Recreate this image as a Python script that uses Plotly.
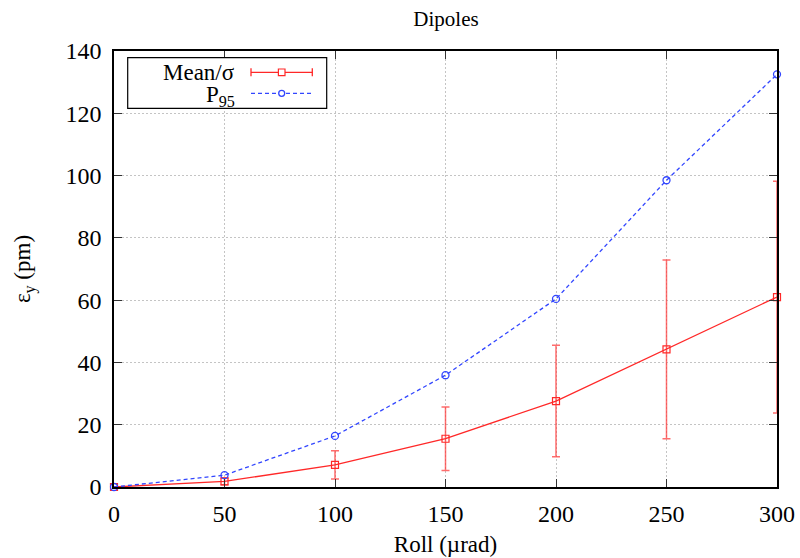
import plotly.graph_objects as go

# ---- data ----
roll = [0, 50, 100, 150, 200, 250, 300]
mean_eps = [0.0, 1.8, 7.1, 15.5, 27.6, 44.2, 61.0]
sigma_eps = [0.0, 1.1, 4.5, 10.2, 17.9, 28.7, 37.2]
p95_eps = [0.0, 3.8, 16.4, 35.9, 60.4, 98.5, 132.5]
x_ticks = [0, 50, 100, 150, 200, 250, 300]
y_ticks = [0, 20, 40, 60, 80, 100, 120, 140]

W, H = 800, 558
L, R, T, B = 114, 23, 51, 71
FONT = "Liberation Serif, Times New Roman, serif"
RED = "rgb(255,40,40)"
RED_ERR = "rgba(255,60,60,0.75)"
BLUE = "rgb(50,70,255)"
BLUE_DASH = "4px,3px"


def px(xp):
    return (xp - L) / (W - L - R)


def py(yp):
    return (H - B - yp) / (H - T - B)


fig = go.Figure()
fig.add_trace(go.Scatter(
    x=roll, y=mean_eps, mode="lines+markers", name="Mean/σ",
    line=dict(color=RED, width=1.3),
    marker=dict(symbol="square-open", size=7, color=RED, line=dict(width=1.2)),
    error_y=dict(type="data", array=sigma_eps, visible=True,
                 color=RED_ERR, thickness=1.5, width=4),
    cliponaxis=False, showlegend=False,
))
fig.add_trace(go.Scatter(
    x=roll, y=p95_eps, mode="lines+markers", name="P95",
    line=dict(color=BLUE, width=1.3, dash=BLUE_DASH),
    marker=dict(symbol="circle-open", size=7, color=BLUE, line=dict(width=1.3)),
    cliponaxis=False, showlegend=False,
))

axis_common = dict(
    showline=True, linecolor="black", linewidth=1.5, mirror="ticks",
    ticks="inside", ticklen=8, tickcolor="#333", tickwidth=1.2,
    showgrid=True, gridcolor="#c4c4c4", griddash="2px,2px", gridwidth=1,
    zeroline=False, automargin=False,
    tickfont=dict(family=FONT, size=24, color="black"),
    title_font=dict(family=FONT, size=23, color="black"),
)

fig.update_xaxes(range=[0, 300], tickvals=x_ticks, ticktext=[str(v) for v in x_ticks],
                 title_text="Roll (µrad)", title_standoff=10, ticklabelstandoff=4,
                 **axis_common)
fig.update_yaxes(range=[0, 140], tickvals=y_ticks, ticktext=[str(v) for v in y_ticks],
                 title_text="ε<sub>y</sub> (pm)", title_standoff=28, ticklabelstandoff=6,
                 **axis_common)

# ---- legend drawn manually (gnuplot style: text then sample) ----
shapes = []
shapes.append(dict(type="rect", xref="paper", yref="paper",
                   x0=px(127.7), x1=px(326.7), y0=py(108.3), y1=py(57.7),
                   line=dict(color="black", width=1.2), fillcolor="white", layer="above"))
r1, r2 = 72.3, 93.3
sx0, sx1, sxm = 251, 312.3, 281.7
shapes.append(dict(type="line", xref="paper", yref="paper", x0=px(sx0), x1=px(sx1),
                   y0=py(r1), y1=py(r1), line=dict(color=RED, width=1.3), layer="above"))
for xx in (sx0, sx1):
    shapes.append(dict(type="line", xref="paper", yref="paper", x0=px(xx), x1=px(xx),
                       y0=py(r1 - 4), y1=py(r1 + 4), line=dict(color=RED, width=1.3), layer="above"))
shapes.append(dict(type="rect", xref="paper", yref="paper", x0=px(sxm - 3.3), x1=px(sxm + 3.3),
                   y0=py(r1 + 3.3), y1=py(r1 - 3.3), line=dict(color=RED, width=1.2),
                   fillcolor="white", layer="above"))
shapes.append(dict(type="line", xref="paper", yref="paper", x0=px(sx0), x1=px(sx1),
                   y0=py(r2), y1=py(r2), line=dict(color=BLUE, width=1.3, dash=BLUE_DASH),
                   layer="above"))
shapes.append(dict(type="circle", xref="paper", yref="paper", x0=px(sxm - 3), x1=px(sxm + 3),
                   y0=py(r2 + 3), y1=py(r2 - 3), line=dict(color=BLUE, width=1.3),
                   fillcolor="white", layer="above"))

annotations = [
    dict(text="Mean/σ", xref="paper", yref="paper", x=px(237), y=py(r1),
         xanchor="right", yanchor="middle", showarrow=False,
         font=dict(family=FONT, size=23, color="black")),
    dict(text="P<sub>95</sub>", xref="paper", yref="paper", x=px(237), y=py(r2 + 3),
         xanchor="right", yanchor="middle", showarrow=False,
         font=dict(family=FONT, size=23, color="black")),
]

fig.update_layout(
    width=W, height=H,
    margin=dict(l=L, r=R, t=T, b=B, autoexpand=False),
    paper_bgcolor="white", plot_bgcolor="white",
    title=dict(text="Dipoles", x=446 / W, xanchor="center",
               y=1 - 19 / H, yanchor="middle", yref="container",
               font=dict(family=FONT, size=21, color="black")),
    shapes=shapes, annotations=annotations,
    showlegend=False,
)

fig.write_html("out.html", config={"displayModeBar": False},
               post_script="document.body.style.margin='0';document.body.style.overflow='hidden';")
